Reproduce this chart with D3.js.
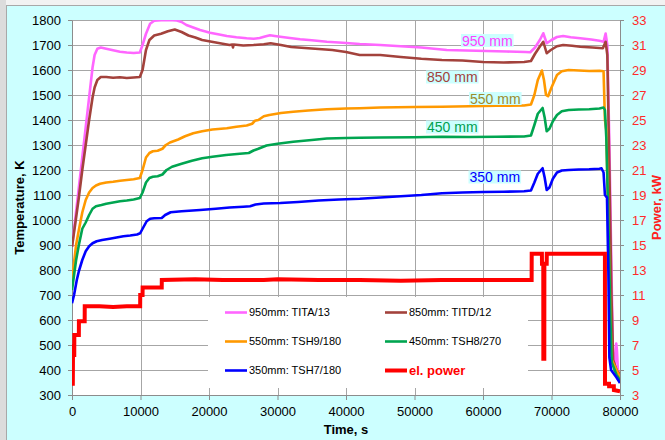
<!DOCTYPE html>
<html><head><meta charset="utf-8">
<script src="https://cdn.jsdelivr.net/npm/d3@7"></script>
<style>
body{margin:0;background:#fff}
svg{display:block;font-family:"Liberation Sans",Arial,sans-serif}
</style>
</head><body>
<svg id="chart" width="665" height="440"></svg>
<script>
// Thermocouple readings [time s, temperature K] at the heights along the rig
const tita13 = [[0,893],[500,1010],[1000,1130],[1500,1250],[2000,1370],[2500,1490],[3000,1610],[3300,1660],[3700,1685],[4200,1690],[5000,1685],[6000,1679],[7000,1673],[8000,1670],[9000,1668],[9900,1670],[10300,1700],[10800,1745],[11400,1785],[12000,1797],[13000,1799],[14000,1800],[15300,1798],[16000,1792],[16700,1780],[17700,1770],[18700,1760],[20150,1749],[21500,1742],[22600,1736],[24000,1731],[25500,1727],[26500,1725],[27400,1728],[28300,1735],[28900,1739],[29600,1736],[30400,1733],[31800,1728],[33300,1723],[35000,1719],[37200,1713],[39500,1709],[42000,1704],[45000,1700],[48000,1695],[51000,1690],[54700,1680],[57500,1678],[60500,1676],[63500,1674],[66200,1672],[66900,1671],[67600,1690],[68300,1720],[68800,1747],[69300,1707],[70000,1720],[70800,1732],[71700,1736],[72800,1731],[74200,1727],[75800,1722],[77000,1717],[77600,1713],[77900,1746],[78150,1700],[78450,1300],[78750,800],[79000,420],[79200,412],[79350,470],[79450,506],[79550,480],[79700,395],[80000,390]];
const titd12 = [[0,893],[500,990],[1000,1090],[1500,1200],[2000,1300],[2500,1400],[3000,1490],[3300,1530],[3700,1560],[4200,1572],[5000,1572],[6000,1569],[7000,1571],[8000,1568],[9000,1570],[9900,1572],[10300,1600],[10800,1680],[11300,1720],[12000,1738],[13000,1745],[14000,1755],[15000,1762],[16000,1752],[17000,1738],[18000,1730],[19000,1720],[20000,1715],[21000,1710],[22000,1705],[23000,1700],[23400,1702],[23500,1690],[23600,1702],[25000,1698],[26500,1700],[28000,1703],[29000,1707],[30500,1700],[32000,1692],[34000,1688],[36000,1684],[38000,1680],[40000,1672],[42000,1660],[45000,1660],[48000,1652],[51000,1645],[54000,1640],[57000,1638],[60000,1632],[63000,1630],[66000,1632],[67000,1636],[67600,1665],[68200,1690],[68800,1713],[69300,1667],[69900,1680],[70800,1695],[71700,1700],[73000,1697],[74200,1693],[76000,1690],[77500,1687],[77900,1713],[78150,1660],[78450,1200],[78750,700],[79000,440],[79500,400],[80000,380]];
const tsh9 = [[0,760],[300,830],[600,900],[1000,960],[1500,1030],[2000,1080],[2500,1110],[3000,1128],[3500,1138],[4100,1145],[5000,1150],[6000,1153],[7000,1157],[8000,1160],[9000,1163],[9900,1168],[10300,1200],[10800,1250],[11300,1268],[11800,1275],[12500,1277],[13200,1285],[13700,1300],[14300,1310],[15500,1322],[16500,1335],[17700,1347],[19000,1355],[20500,1362],[22600,1367],[24000,1373],[25500,1378],[26300,1385],[26700,1397],[27200,1400],[28000,1415],[28800,1420],[30500,1428],[32300,1433],[34500,1438],[37200,1443],[40000,1446],[42000,1447],[45000,1450],[50000,1452],[54000,1453],[58000,1455],[62000,1457],[66000,1458],[67000,1462],[67500,1500],[68000,1560],[68600,1598],[68900,1560],[69200,1500],[69500,1495],[70000,1530],[70800,1580],[71500,1595],[72500,1600],[74000,1598],[75500,1596],[77000,1597],[77600,1595],[77800,1400],[78000,1360],[78300,1000],[78600,600],[78800,440],[79500,400],[80000,370]];
const tsh8 = [[0,720],[300,780],[600,840],[1000,900],[1500,965],[2000,990],[2500,1020],[3000,1045],[3500,1055],[4300,1060],[5000,1065],[6000,1070],[7000,1075],[8000,1078],[9000,1082],[9900,1088],[10300,1110],[10800,1150],[11300,1168],[11800,1173],[12500,1175],[13200,1182],[13800,1200],[14600,1213],[16000,1225],[17500,1237],[19000,1247],[20500,1253],[22500,1260],[24500,1265],[25800,1268],[26500,1278],[27200,1285],[28400,1298],[30000,1305],[32300,1313],[35000,1320],[37200,1326],[40000,1328],[42000,1329],[45000,1330],[50000,1331],[54000,1333],[58000,1332],[62000,1333],[66000,1334],[67000,1338],[67500,1380],[68000,1425],[68700,1448],[69000,1410],[69300,1355],[69700,1365],[70200,1395],[70800,1420],[71500,1435],[72500,1440],[74000,1442],[75500,1443],[77000,1446],[77600,1450],[77800,1440],[78000,1330],[78300,1000],[78600,600],[78800,430],[79500,380],[80000,360]];
const tsh7 = [[0,667],[300,700],[700,760],[1000,795],[1500,840],[2000,875],[2500,895],[3000,907],[3600,915],[4400,920],[5500,925],[6500,930],[7500,935],[8500,938],[9500,942],[9950,947],[10400,970],[10900,995],[11400,1005],[12000,1007],[13100,1008],[13600,1020],[14400,1031],[16000,1035],[18700,1040],[21000,1045],[23000,1050],[25000,1053],[26000,1055],[26800,1062],[28000,1066],[30400,1068],[33000,1072],[36000,1078],[39000,1082],[42000,1085],[45000,1090],[48000,1095],[51000,1100],[54000,1107],[57000,1110],[60000,1112],[63000,1113],[66000,1115],[67000,1118],[67500,1150],[68000,1185],[68700,1207],[69000,1170],[69300,1120],[69700,1130],[70200,1165],[70800,1190],[71500,1198],[72500,1200],[74000,1202],[75500,1203],[77000,1205],[77300,1207],[77600,1190],[77800,1100],[78000,1093],[78100,1090],[78300,800],[78450,450],[78700,400],[79500,370],[80000,348]];

// Electrical heater power [time s, kW]
const elPower = [[0,3.9],[120,3.9],[150,6.9],[260,6.9],[270,6.2],[330,6.2],[340,7.8],[1000,7.8],[1010,8.9],[1850,8.9],[1860,10.1],[4000,10.1],[6000,10.05],[8000,10.1],[9950,10.1],[9960,11.0],[10300,11.0],[10310,11.6],[13100,11.6],[13110,12.2],[18000,12.25],[22000,12.2],[28000,12.2],[30000,12.25],[36000,12.2],[42000,12.2],[48000,12.15],[54000,12.2],[60000,12.2],[66000,12.2],[67100,12.2],[67110,14.3],[68600,14.3],[68610,13.5],[68800,13.5],[68810,5.9],[68950,5.9],[68960,13.5],[69300,13.5],[69310,14.3],[77800,14.3],[77810,3.9],[78400,3.9],[78410,3.7],[79100,3.7],[79110,3.4],[80000,3.3]];

const seriesNames = ["950mm: TITA/13","850mm: TITD/12","550mm: TSH9/180","450mm: TSH8/270","350mm: TSH7/180","el. power"];
const seriesColors = ["#ff66ff","#a3423c","#ff9900","#00a550","#0000ff","#ff0000"];
const curveLabels = ["950 mm","850 mm","550 mm","450 mm","350 mm"];
const labelColors = ["#ff40ff","#a3423c","#9c8b2e","#00a050","#0000ff"];

const tempTicks = d3.range(300, 1801, 100);
const powerTicks = d3.range(3, 34, 2);
const timeTicks = d3.range(0, 80001, 10000);

const svg = d3.select("#chart");
const L = 72, R = 620, T = 20, B = 395;

const x = d3.scaleLinear().domain([0, 80000]).range([L, R]);
const y = d3.scaleLinear().domain([300, 1800]).range([B, T]);
const yP = d3.scaleLinear().domain([3, 33]).range([B, T]);
const plain = d3.format("d");

// frame and backgrounds
svg.append("rect").attr("width", 665).attr("height", 440).attr("fill", "#f2f2f2");
svg.append("rect").attr("x", 0).attr("y", 0).attr("width", 6).attr("height", 440).attr("fill", "#dcdcdc");
svg.append("rect").attr("x", 6.5).attr("y", 5.5).attr("width", 700).attr("height", 500)
  .attr("fill", "#ccffff").attr("stroke", "#a8a8a8");
svg.append("rect").attr("x", L).attr("y", T).attr("width", R - L).attr("height", B - T).attr("fill", "#fff");

// gridlines
const grid = svg.append("g").attr("stroke", "#a6a6a6").attr("stroke-width", 1);
grid.selectAll("line.h").data(tempTicks).join("line")
  .attr("x1", L).attr("x2", R).attr("y1", d => Math.round(y(d)) + 0.5).attr("y2", d => Math.round(y(d)) + 0.5);
grid.selectAll("line.v").data(timeTicks).join("line")
  .attr("y1", T).attr("y2", B).attr("x1", d => Math.round(x(d)) + 0.5).attr("x2", d => Math.round(x(d)) + 0.5);

// axes
const axisStyle = g => {
  g.selectAll(".domain").attr("stroke", "#8c8c8c");
  g.selectAll(".tick line").attr("stroke", "#8c8c8c");
  g.selectAll("text").attr("font-size", 13).attr("font-family", "'Liberation Sans', Arial, sans-serif");
};
svg.append("g").attr("transform", `translate(${L},0)`)
  .call(d3.axisLeft(y).tickValues(tempTicks).tickFormat(plain).tickSize(4).tickSizeOuter(0).tickPadding(7))
  .call(axisStyle).call(g => g.selectAll("text").attr("fill", "#000"));
svg.append("g").attr("transform", `translate(${R},0)`)
  .call(d3.axisRight(yP).tickValues(powerTicks).tickFormat(plain).tickSize(4).tickSizeOuter(0).tickPadding(8))
  .call(axisStyle).call(g => g.selectAll("text").attr("fill", "#ff2a2a"));
svg.append("g").attr("transform", `translate(0,${B})`)
  .call(d3.axisBottom(x).tickValues(timeTicks).tickFormat(plain).tickSize(5).tickSizeOuter(0).tickPadding(7))
  .call(axisStyle).call(g => g.selectAll("text").attr("fill", "#000"));

// axis titles
svg.append("text").attr("transform", `translate(24,${(T + B) / 2}) rotate(-90)`)
  .attr("text-anchor", "middle").attr("font-size", 13).attr("font-weight", "bold").text("Temperature, K");
svg.append("text").attr("transform", `translate(661,${(T + B) / 2}) rotate(-90)`)
  .attr("text-anchor", "middle").attr("font-size", 13).attr("font-weight", "bold").attr("fill", "#ff2020").text("Power, kW");
svg.append("text").attr("x", (L + R) / 2).attr("y", 434)
  .attr("text-anchor", "middle").attr("font-size", 13).attr("font-weight", "bold").text("Time, s");

// data lines
svg.append("clipPath").attr("id", "plotClip").append("rect")
  .attr("x", L).attr("y", T).attr("width", R - L).attr("height", B - T + 4);
const plot = svg.append("g").attr("clip-path", "url(#plotClip)");
const lineT = d3.line().x(d => x(d[0])).y(d => y(d[1]));
const lineP = d3.line().x(d => x(d[0])).y(d => yP(d[1]));
[tita13, titd12, tsh9, tsh8, tsh7].forEach((s, i) => {
  plot.append("path").datum(s).attr("d", lineT).attr("fill", "none")
    .attr("stroke", seriesColors[i]).attr("stroke-width", 2.6).attr("stroke-linejoin", "round");
});
plot.append("path").datum(elPower).attr("d", lineP).attr("fill", "none")
  .attr("stroke", seriesColors[5]).attr("stroke-width", 4).attr("stroke-linejoin", "miter");

// legend
const lg = svg.append("g");
lg.append("rect").attr("x", 208).attr("y", 297).attr("width", 320).attr("height", 91).attr("fill", "#fff");
const legendPos = [[225, 312.5], [385, 312.5], [225, 341.5], [385, 341.5], [225, 370.5], [385, 370.5]];
seriesNames.forEach((n, i) => {
  const [lx, ly] = legendPos[i];
  lg.append("line").attr("x1", lx).attr("x2", lx + 22).attr("y1", ly).attr("y2", ly)
    .attr("stroke", seriesColors[i]).attr("stroke-width", i === 5 ? 4 : 2.6);
  const t = lg.append("text").attr("x", lx + 24).attr("y", ly).attr("dy", "0.35em").text(n);
  if (i === 5) t.attr("font-size", 13).attr("font-weight", "bold").attr("fill", "#ff0000");
  else t.attr("font-size", 11).attr("fill", "#000");
});

// curve labels with highlighted background
const labelPos = [[462, 40.5], [427, 77], [470, 98.5], [427, 127], [469.5, 177]];
curveLabels.forEach((s, i) => {
  const g = svg.append("g");
  const bg = g.append("rect").attr("fill", "#ccffff");
  const t = g.append("text").attr("x", labelPos[i][0]).attr("y", labelPos[i][1]).attr("dy", "0.36em")
    .attr("font-size", 14).attr("fill", labelColors[i]).text(s);
  const bb = t.node().getBBox();
  bg.attr("x", bb.x - 1).attr("y", labelPos[i][1] - 6.5).attr("width", bb.width + 2).attr("height", 13);
});
</script>
</body></html>
